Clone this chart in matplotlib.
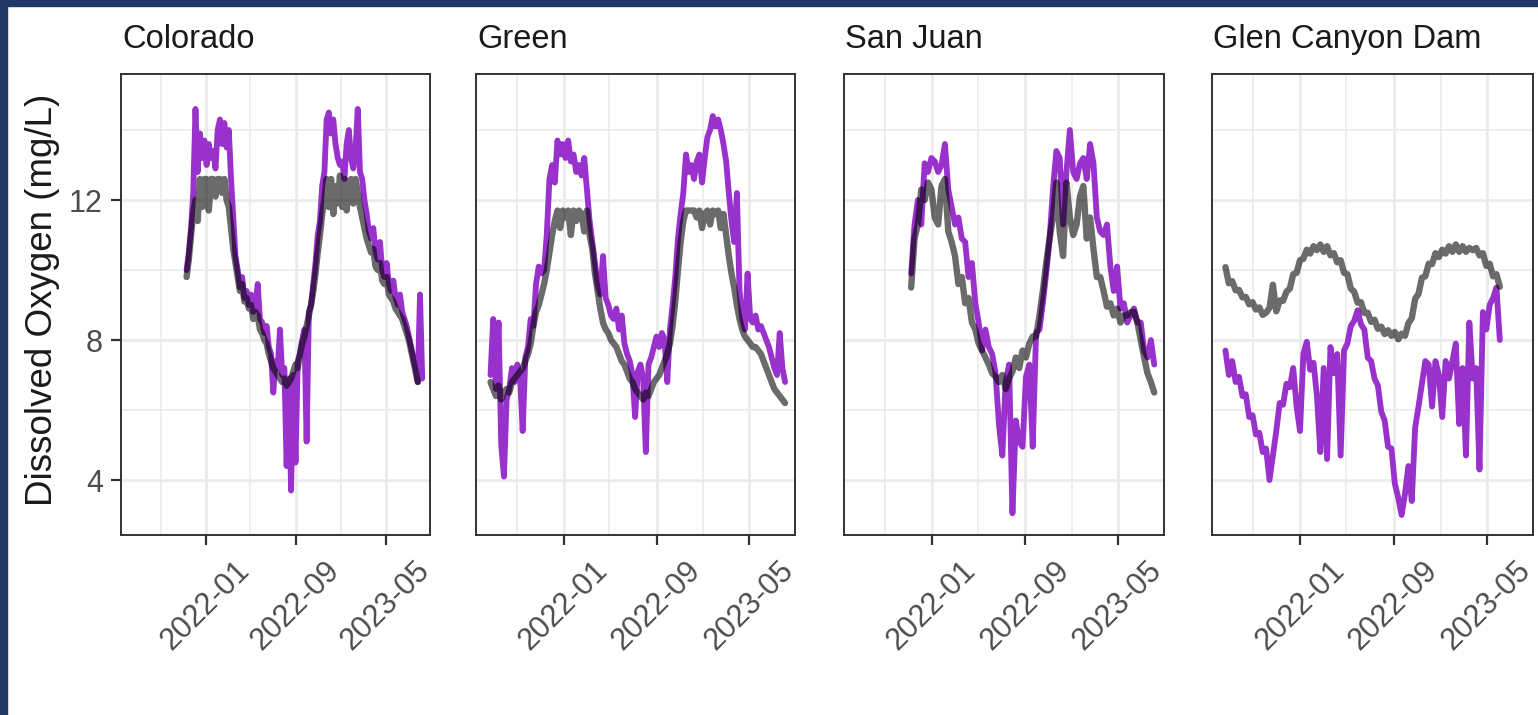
import numpy as np
import pandas as pd
import matplotlib
matplotlib.use("Agg")
import matplotlib.pyplot as plt
import matplotlib.dates as mdates
from matplotlib.patches import Rectangle

# ---------------- data ----------------
panels = ["Colorado", "Green", "San Juan", "Glen Canyon Dam"]
x_tick_labels = ["2022-01", "2022-09", "2023-05"]
y_ticks = [4, 8, 12]

# Colorado (regular sampling, 6 days, from 2021-11-10)
colorado_start, colorado_step = "2021-11-10", 6.0
colorado_purple = [10.0, 10.5, 11.2, 12.2, 14.6, 12.8, 13.9, 13.2, 13.7, 13.0, 13.6, 13.2, 13.4, 12.9,
                   14.0, 14.3, 13.6, 14.2, 13.5, 14.0, 12.6, 11.5, 10.4, 10.0, 9.5, 9.8, 9.2, 9.4, 9.0,
                   9.3, 8.8, 9.0, 9.6, 8.6, 8.5, 8.2, 8.4, 7.8, 7.6, 6.5, 7.4, 7.2, 8.3, 7.0, 7.2, 4.4,
                   6.9, 3.7, 7.0, 4.5, 7.4, 7.6, 8.0, 8.3, 5.1, 8.8, 9.0, 9.6, 10.2, 11.0, 11.4, 12.4,
                   12.8, 14.3, 14.5, 13.9, 14.3, 13.6, 13.2, 13.0, 13.1, 12.6, 13.6, 14.0, 13.2, 12.9,
                   13.4, 14.6, 12.8, 12.6, 12.0, 11.6, 11.1, 10.9, 11.2, 10.5, 10.3, 10.8, 10.0, 9.8,
                   10.2, 9.6, 9.4, 9.7, 9.2, 9.0, 9.3, 8.8, 8.6, 8.4, 8.1, 7.8, 7.5, 7.2, 6.8, 9.3, 6.9]
colorado_gray = [9.8, 10.3, 11.0, 11.6, 12.0, 11.4, 12.6, 11.8, 12.6, 12.6, 11.7, 12.6, 12.6, 12.1, 12.6,
                 12.6, 12.2, 12.6, 12.0, 11.8, 11.2, 10.6, 10.2, 9.8, 9.4, 9.6, 9.1, 9.2, 8.9, 9.0, 8.6,
                 8.8, 8.7, 8.3, 8.2, 8.0, 7.9, 7.6, 7.4, 7.2, 7.1, 7.0, 6.9, 6.8, 6.9, 6.7, 6.8, 6.9,
                 7.1, 7.3, 7.2, 7.6, 7.9, 8.1, 8.4, 8.7, 9.0, 9.4, 9.9, 10.5, 11.0, 11.6, 12.0, 12.6,
                 11.8, 12.6, 11.6, 12.4, 11.9, 12.7, 11.8, 12.6, 11.7, 12.5, 12.6, 11.9, 12.6, 12.2,
                 11.8, 11.5, 11.2, 10.9, 10.7, 10.5, 10.6, 10.1, 10.0, 10.2, 9.7, 9.6, 9.8, 9.3, 9.2,
                 9.1, 8.9, 8.8, 8.7, 8.6, 8.4, 8.2, 8.0, 7.7, 7.4, 7.1, 6.8]

# Green (regular sampling, 7 days, from 2021-06-24)
green_start, green_step = "2021-06-24", 7.0
green_purple = [7.0, 8.6, 6.6, 8.5, 5.0, 4.1, 6.3, 6.6, 7.2, 6.8, 7.3, 7.0, 5.4, 7.5, 7.8, 8.6, 8.4,
                9.6, 10.1, 9.9, 10.0, 11.0, 12.6, 13.0, 12.5, 13.7, 13.3, 13.6, 13.2, 13.7, 13.1, 13.3,
                12.8, 13.0, 12.7, 13.2, 12.3, 11.4, 10.8, 10.2, 9.6, 9.3, 10.4, 9.2, 9.0, 8.7, 8.6, 8.9,
                8.3, 8.7, 7.9, 7.6, 7.4, 7.0, 5.8, 7.1, 7.3, 6.9, 4.8, 7.3, 7.5, 7.8, 8.1, 7.8, 8.2,
                8.0, 6.8, 8.3, 9.0, 9.8, 10.9, 11.6, 12.2, 13.3, 12.8, 13.0, 12.6, 13.1, 13.3, 12.5,
                13.2, 13.8, 14.0, 14.4, 14.1, 14.3, 14.0, 13.6, 13.1, 12.2, 11.4, 10.8, 12.2, 9.4, 8.6,
                8.3, 9.9, 8.6, 8.5, 8.7, 8.3, 8.4, 8.2, 8.0, 7.8, 7.5, 7.2, 7.0, 8.2, 7.2, 6.8]
green_gray = [6.8, 6.6, 6.4, 6.7, 6.3, 6.5, 6.6, 6.5, 6.8, 6.9, 7.0, 7.1, 7.2, 7.4, 7.6, 7.9, 8.4, 8.8,
              9.0, 9.3, 9.6, 10.0, 10.5, 11.0, 11.4, 11.7, 11.2, 11.7, 11.5, 11.7, 11.0, 11.7, 11.4,
              11.7, 11.6, 11.1, 11.7, 11.0, 10.6, 9.9, 9.4, 8.9, 8.5, 8.3, 8.2, 8.0, 7.9, 7.8, 7.6,
              7.4, 7.3, 7.1, 6.9, 6.8, 6.6, 6.5, 6.4, 6.3, 6.5, 6.4, 6.6, 6.8, 6.9, 7.0, 7.2, 7.4,
              7.6, 7.9, 8.4, 9.1, 10.0, 10.8, 11.4, 11.7, 11.7, 11.7, 11.7, 11.5, 11.7, 11.2, 11.6,
              11.7, 11.3, 11.7, 11.6, 11.7, 11.2, 11.6, 11.0, 10.4, 9.9, 9.5, 9.0, 8.6, 8.3, 8.1,
              8.0, 7.9, 7.8, 7.8, 7.7, 7.6, 7.4, 7.2, 7.0, 6.8, 6.6, 6.5, 6.4, 6.3, 6.2]

# San Juan (regular sampling, 8.8 days, from 2021-11-08)
sanjuan_start, sanjuan_step = "2021-11-08", 8.8
sanjuan_purple = [9.9, 11.3, 12.0, 11.3, 13.05, 12.8, 13.2, 13.1, 12.8, 13.0, 13.6, 12.3, 11.8, 11.3,
                  11.5, 10.9, 10.8, 9.8, 10.2, 9.05, 8.5, 7.7, 8.3, 7.8, 7.6, 7.05, 5.6, 4.7, 6.8, 7.3,
                  3.05, 5.7, 5.1, 4.95, 6.95, 7.3, 4.95, 8.2, 8.3, 9.05, 9.9, 10.9, 12.3, 13.4, 13.2,
                  11.3, 12.8, 14.0, 12.8, 12.6, 13.05, 13.2, 12.6, 13.6, 13.05, 11.5, 11.1, 11.0, 11.3,
                  10.1, 9.4, 10.1, 8.9, 9.05, 8.5, 8.7, 8.9, 8.5, 8.5, 7.7, 7.5, 8.0, 7.3]
sanjuan_gray = [9.5, 10.9, 11.3, 12.3, 12.0, 12.5, 12.3, 11.5, 11.3, 12.4, 12.6, 11.1, 10.8, 10.4, 9.6,
                9.8, 9.05, 9.2, 8.5, 8.3, 7.9, 7.7, 7.5, 7.3, 7.05, 6.95, 6.8, 7.0, 6.6, 6.9, 7.1, 7.5,
                7.2, 7.7, 7.5, 7.9, 8.1, 8.1, 8.7, 9.4, 10.2, 10.9, 11.5, 12.5, 11.1, 10.4, 12.5, 11.5,
                11.0, 11.3, 12.1, 12.4, 10.9, 11.5, 10.6, 9.8, 9.8, 9.4, 8.95, 9.05, 8.7, 8.9, 8.5,
                8.7, 8.7, 8.8, 8.8, 8.5, 8.0, 7.5, 7.05, 6.8, 6.5]

# Glen Canyon Dam (regular sampling, 8.8 days, from 2021-06-21)
glen_start, glen_step = "2021-06-21", 8.8
glen_purple = [7.7, 7.0, 7.4, 6.8, 6.95, 6.4, 6.45, 5.8, 5.85, 5.3, 5.35, 4.8, 4.9, 4.0, 4.7, 5.4, 6.2,
               6.15, 6.75, 6.65, 7.2, 6.1, 5.4, 7.6, 7.95, 7.15, 7.35, 6.4, 4.8, 7.2, 4.6, 7.8, 7.05,
               7.6, 4.7, 7.7, 7.9, 8.4, 8.55, 8.85, 8.45, 8.3, 7.5, 7.4, 6.9, 6.7, 5.95, 5.7, 4.95,
               4.9, 3.9, 3.5, 3.0, 3.6, 4.4, 3.4, 5.5, 6.1, 6.75, 7.4, 7.3, 6.1, 7.4, 7.0, 5.8, 7.4,
               6.9, 7.4, 7.9, 5.6, 7.2, 4.7, 8.5, 6.9, 7.2, 4.3, 8.8, 8.3, 9.0, 9.2, 9.5, 8.0]
glen_gray = [10.08, 9.62, 9.68, 9.42, 9.43, 9.22, 9.23, 9.02, 9.08, 8.87, 8.93, 8.72, 8.78, 8.92, 9.58,
             8.82, 9.13, 9.12, 9.38, 9.47, 9.88, 9.92, 10.28, 10.32, 10.58, 10.47, 10.68, 10.57, 10.73,
             10.52, 10.68, 10.42, 10.48, 10.22, 10.28, 9.92, 9.88, 9.47, 9.38, 9.07, 9.08, 8.77, 8.78,
             8.52, 8.58, 8.32, 8.38, 8.17, 8.28, 8.12, 8.23, 8.02, 8.18, 8.12, 8.48, 8.62, 9.18, 9.32,
             9.78, 9.82, 10.18, 10.17, 10.48, 10.37, 10.58, 10.47, 10.68, 10.52, 10.73, 10.52, 10.68,
             10.52, 10.63, 10.57, 10.63, 10.42, 10.48, 10.12, 10.18, 9.82, 9.88, 9.52]

series = {
    "Colorado": (colorado_start, colorado_step, colorado_purple, colorado_gray),
    "Green": (green_start, green_step, green_purple, green_gray),
    "San Juan": (sanjuan_start, sanjuan_step, sanjuan_purple, sanjuan_gray),
    "Glen Canyon Dam": (glen_start, glen_step, glen_purple, glen_gray),
}

# ---------------- style ----------------
W, H = 1538, 715
plt.rcParams["font.family"] = ["Liberation Sans", "DejaVu Sans"]
fig = plt.figure(figsize=(W / 100, H / 100), dpi=100)
fig.patch.set_facecolor("white")

navy = "#1F3864"
fig.patches.append(Rectangle((0, 1 - 6 / H), 1, 6 / H, transform=fig.transFigure, color=navy, zorder=0))
fig.patches.append(Rectangle((0, 0), 7 / W, 1, transform=fig.transFigure, color=navy, zorder=0))

panel_px = [(121, 430), (476, 795), (844, 1164), (1212, 1533)]
top_px, bot_px = 74, 535

base = mdates.date2num(pd.Timestamp("2022-01-01"))
xlim = (base - 229, base + 605)
ylim = (2.43, 15.6)
major_x = [mdates.date2num(pd.Timestamp(s + "-01")) for s in x_tick_labels]
minor_x = [mdates.date2num(pd.Timestamp(s)) for s in ["2021-09-01", "2022-05-01", "2023-01-01"]]
minor_y = [6, 10, 14]

purple = "#9932CC"
grid_c = "#EBEBEB"

for k, name in enumerate(panels):
    l, r = panel_px[k]
    ax = fig.add_axes([l / W, (H - bot_px) / H, (r - l) / W, (bot_px - top_px) / H])
    ax.set_xlim(*xlim)
    ax.set_ylim(*ylim)
    for v in minor_x:
        ax.axvline(v, color=grid_c, lw=1.2, zorder=0)
    for v in major_x:
        ax.axvline(v, color=grid_c, lw=2.0, zorder=0)
    for v in minor_y:
        ax.axhline(v, color=grid_c, lw=1.2, zorder=0)
    for v in y_ticks:
        ax.axhline(v, color=grid_c, lw=2.0, zorder=0)

    start, step, pv, gv = series[name]
    s0 = mdates.date2num(pd.Timestamp(start))
    xp = s0 + np.arange(len(pv)) * step
    xg = s0 + np.arange(len(gv)) * step
    ax.plot(xp, pv, color=purple, lw=4.2, solid_joinstyle="round", solid_capstyle="round", zorder=2)
    ax.plot(xg, gv, color="black", alpha=0.58, lw=4.6, solid_joinstyle="round",
            solid_capstyle="round", zorder=3)

    ax.set_xticks(major_x)
    ax.set_xticklabels(x_tick_labels, rotation=45, ha="center", va="top")
    ax.tick_params(axis="x", length=7, width=1.6, color="#333333", labelsize=22,
                   labelcolor="#4D4D4D", pad=8)
    if k == 0:
        ax.set_yticks(y_ticks)
        ax.set_yticklabels([str(t) for t in y_ticks])
        ax.tick_params(axis="y", length=7, width=1.6, color="#333333", labelsize=22,
                       labelcolor="#4D4D4D", pad=6)
    else:
        ax.set_yticks([])
    for sp in ax.spines.values():
        sp.set_color("#333333")
        sp.set_linewidth(1.4)
    ax.text(0.004, (bot_px - 48) / (bot_px - top_px), name, transform=ax.transAxes,
            ha="left", va="baseline", fontsize=23.5, color="#1A1A1A")

fig.text(52 / W, 1 - 300 / H, "Dissolved Oxygen (mg/L)", rotation=90, rotation_mode="anchor",
         ha="center", va="baseline", fontsize=26.5, color="#1A1A1A")

fig.savefig("out.png", dpi=100, facecolor="white")
